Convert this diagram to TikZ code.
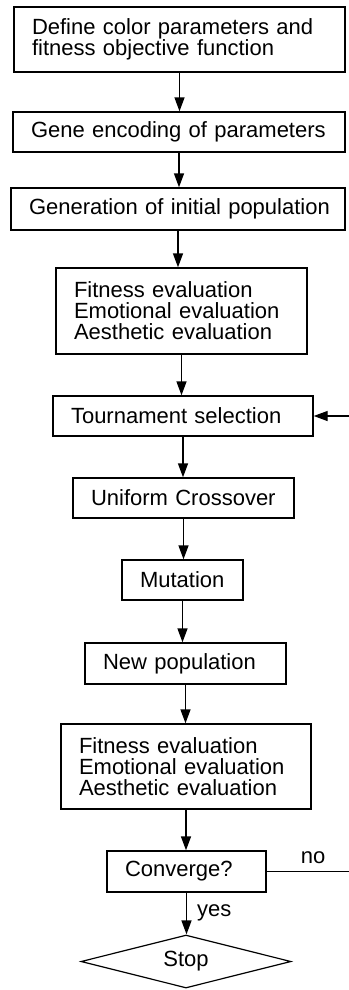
\documentclass[tikz,border=0pt]{standalone}
\usepackage{fontspec}
\setmainfont{Liberation Sans}
\usetikzlibrary{arrows.meta, shapes.geometric, positioning}

\begin{document}
\begin{tikzpicture}[x=1pt, y=-1pt,
    box/.style={draw, line width=1.4pt, align=left, inner xsep=18pt, inner ysep=0pt, font=\fontsize{22}{21}\selectfont},
    flow/.style={-{Triangle[width=10pt,length=14pt]}, line width=1.4pt},
    lbl/.style={inner sep=0pt, font=\fontsize{22}{21}\selectfont}]

        \useasboundingbox (0,0) rectangle (348,990);

        % Steps of the algorithm
        \node[box, text width=295pt, minimum height=65pt] (define) at (179.5,39.5) {Define color parameters and\\fitness objective function};
        \node[box, text width=296pt, minimum height=40pt] (encode) at (179,132) {\mbox{Gene encoding of parameters}};
        \node[box, text width=298pt, minimum height=42pt] (init) at (178,209) {\mbox{Generation of initial population}};
        \node[box, text width=215pt, minimum height=86pt] (evalA) at (181.5,311) {Fitness evaluation\\Emotional evaluation\\Aesthetic evaluation};
        \node[box, text width=224pt, minimum height=40pt] (tour) at (183,416) {Tournament selection};
        \node[box, text width=185pt, minimum height=40pt] (cross) at (183.5,498) {Uniform Crossover};
        \node[box, text width=85pt, minimum height=40pt] (mut) at (182.5,580) {Mutation};
        \node[box, text width=165pt, minimum height=41pt] (newpop) at (185.5,663.5) {New population};
        \node[box, text width=214pt, minimum height=85pt] (evalB) at (186,766.5) {Fitness evaluation\\Emotional evaluation\\Aesthetic evaluation};
        \node[box, text width=123pt, minimum height=41pt] (conv) at (186.5,871.5) {Converge?};
        \node[draw, diamond, aspect=4, inner sep=0pt, minimum width=210pt, minimum height=53pt, line width=1.2pt, font=\fontsize{22}{21}\selectfont] (stop) at (186,961.5) {Stop};

        % Arrows downwards
        \draw[flow] (define) -- (define |- encode.north);
        \draw[flow] (encode) -- (encode |- init.north);
        \draw[flow] (init) -- (init |- evalA.north);
        \draw[flow] (evalA) -- (evalA |- tour.north);
        \draw[flow] (tour) -- (tour |- cross.north);
        \draw[flow] (cross) -- (cross |- mut.north);
        \draw[flow] (mut) -- (mut |- newpop.north);
        \draw[flow] (newpop) -- (newpop |- evalB.north);
        \draw[flow] (evalB) -- (evalB |- conv.north);
        \draw[flow] (conv) -- (conv |- stop.north);

        % Loop back to the selection
        \coordinate (rgt) at (353,873);
        \draw[flow] (conv.east) -- (conv.east -| rgt) -- (tour.east -| rgt) -- (tour.east);

        % Labels
        \node[lbl] (nolbl) at (313,858) {no};
        \node[lbl, anchor=west] (yeslbl) at (197,913) {yes};

\end{tikzpicture}
\end{document}
